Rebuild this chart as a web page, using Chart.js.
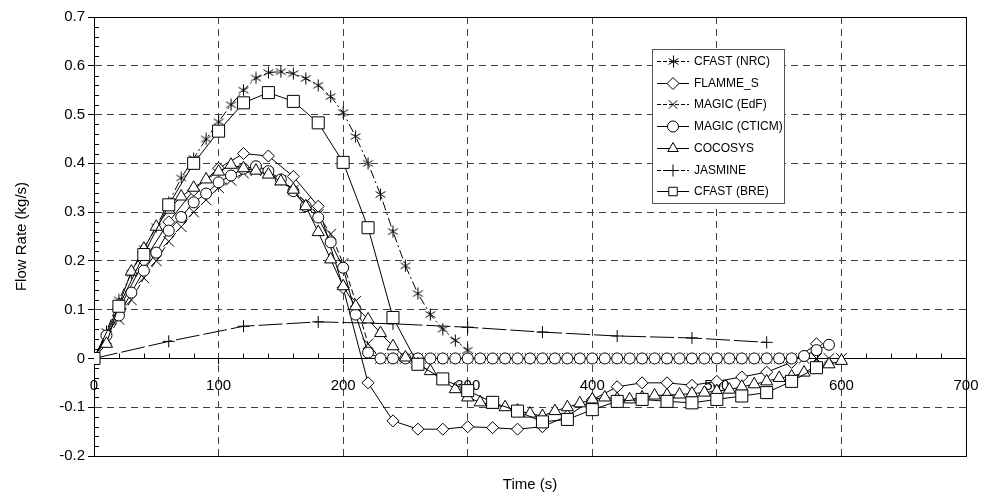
<!DOCTYPE html>
<html>
<head>
<meta charset="utf-8">
<script src="https://cdn.jsdelivr.net/npm/chart.js@4/dist/chart.umd.min.js"></script>
<style>
  html, body { margin: 0; padding: 0; background: #fff; }
</style>
</head>
<body>
<canvas id="grafica" width="985" height="502"></canvas>
<script>
// tiempos (s)
const tiempo10 = [0, 10, 20, 30, 40, 50, 60, 70, 80, 90, 100, 110, 120, 130, 140, 150, 160, 170, 180, 190,
  200, 210, 220, 230, 240, 250, 260, 270, 280, 290, 300, 310, 320, 330, 340, 350, 360, 370, 380, 390,
  400, 410, 420, 430, 440, 450, 460, 470, 480, 490, 500, 510, 520, 530, 540, 550, 560, 570, 580, 590, 600];
const tiempo20 = [0, 20, 40, 60, 80, 100, 120, 140, 160, 180, 200, 220, 240, 260, 280, 300, 320, 340, 360, 380,
  400, 420, 440, 460, 480, 500, 520, 540, 560, 580];
const tiempoJasmine = [0, 60, 120, 180, 240, 300, 360, 420, 480, 540];

// caudal (kg/s)
const flujoNRC = [0, 0.055, 0.12, 0.175, 0.225, 0.27, 0.32, 0.37, 0.41, 0.45, 0.485, 0.52, 0.55, 0.575, 0.586,
  0.588, 0.584, 0.574, 0.56, 0.537, 0.504, 0.455, 0.40, 0.336, 0.26, 0.19, 0.133, 0.09, 0.06, 0.037, 0.017];
const flujoFlamme = [0, 0.1, 0.2, 0.28, 0.345, 0.39, 0.42, 0.415, 0.373, 0.312, 0.145, -0.05, -0.128, -0.145,
  -0.145, -0.14, -0.142, -0.145, -0.14, -0.118, -0.085, -0.058, -0.05, -0.05, -0.055, -0.047, -0.038, -0.028,
  -0.008, 0.03];
const flujoEdF = [0, 0.04, 0.08, 0.12, 0.165, 0.2, 0.24, 0.27, 0.3, 0.325, 0.35, 0.365, 0.38, 0.385, 0.38,
  0.365, 0.345, 0.32, 0.295, 0.255, 0.195, 0.117, 0.03,
  0, 0, 0, 0, 0, 0, 0, 0, 0, 0, 0, 0, 0, 0, 0, 0, 0, 0, 0, 0,
  0, 0, 0, 0, 0, 0, 0, 0, 0, 0, 0, 0, 0, 0, 0, 0, 0, 0];
const flujoCTICM = [0, 0.047, 0.088, 0.135, 0.18, 0.217, 0.262, 0.29, 0.32, 0.338, 0.361, 0.375, 0.389, 0.394,
  0.384, 0.367, 0.343, 0.312, 0.289, 0.238, 0.186, 0.09, 0.012,
  0, 0, 0, 0, 0, 0, 0, 0, 0, 0, 0, 0, 0, 0, 0, 0, 0,
  0, 0, 0, 0, 0, 0, 0, 0, 0, 0, 0, 0, 0, 0, 0, 0, 0,
  0.005, 0.017, 0.028];
const flujoCocosys = [0, 0.03, 0.11, 0.178, 0.225, 0.27, 0.305, 0.332, 0.35, 0.367, 0.383, 0.397, 0.39, 0.385,
  0.377, 0.363, 0.346, 0.312, 0.259, 0.203, 0.148, 0.107, 0.08, 0.052, 0.025, 0.002, -0.012, -0.026, -0.045,
  -0.063, -0.08, -0.09, -0.095, -0.1, -0.107, -0.113, -0.118, -0.108, -0.1, -0.092, -0.084, -0.08, -0.083,
  -0.084, -0.08, -0.076, -0.075, -0.074, -0.072, -0.07, -0.067, -0.064, -0.058, -0.053, -0.047, -0.04,
  -0.037, -0.029, -0.016, -0.012, -0.005];
const flujoJasmine = [0, 0.035, 0.066, 0.075, 0.071, 0.064, 0.054, 0.046, 0.042, 0.033];
const flujoBRE = [0, 0.107, 0.213, 0.315, 0.40, 0.466, 0.524, 0.545, 0.527, 0.483, 0.402, 0.268, 0.084, -0.012,
  -0.042, -0.066, -0.09, -0.108, -0.13, -0.125, -0.105, -0.088, -0.084, -0.088, -0.091, -0.084, -0.077,
  -0.07, -0.047, -0.019];

const FUENTE = "'Liberation Sans', Arial, sans-serif";

function puntos(tiempos, valores) {
  return valores.map((v, i) => ({ x: tiempos[i], y: v }));
}

// asterisco de 6 brazos para CFAST (NRC)
function hacerAsterisco(tam) {
  const c = document.createElement('canvas');
  c.width = tam; c.height = tam;
  const g = c.getContext('2d');
  const m = tam / 2, r = tam / 2 - 0.5, d = r * 0.82;
  g.strokeStyle = '#000';
  g.lineWidth = 1;
  g.beginPath();
  g.moveTo(m, m - r); g.lineTo(m, m + r);
  g.moveTo(m - d, m - d * 0.6); g.lineTo(m + d, m + d * 0.6);
  g.moveTo(m - d, m + d * 0.6); g.lineTo(m + d, m - d * 0.6);
  g.stroke();
  return c;
}
const asterisco = hacerAsterisco(13);

const series = [
  { label: 'CFAST (NRC)', data: puntos(tiempo10, flujoNRC), pointStyle: asterisco, pointRadius: 6, borderDash: [9, 3, 2, 3] },
  { label: 'FLAMME_S', data: puntos(tiempo20, flujoFlamme), pointStyle: 'rectRot', pointRadius: 6, borderDash: [] },
  { label: 'MAGIC (EdF)', data: puntos(tiempo10, flujoEdF), pointStyle: 'crossRot', pointRadius: 7.5, borderDash: [6, 3] },
  { label: 'MAGIC (CTICM)', data: puntos(tiempo10, flujoCTICM), pointStyle: 'circle', pointRadius: 5.5, borderDash: [] },
  { label: 'COCOSYS', data: puntos(tiempo10, flujoCocosys), pointStyle: 'triangle', pointRadius: 7, borderDash: [] },
  { label: 'JASMINE', data: puntos(tiempoJasmine, flujoJasmine), pointStyle: 'cross', pointRadius: 6, borderDash: [24, 4] },
  { label: 'CFAST (BRE)', data: puntos(tiempo20, flujoBRE), pointStyle: 'rect', pointRadius: 8.5, borderDash: [] }
];

// marcas para la leyenda
function dibujarMarca(ctx, estilo, r, x, y) {
  if (estilo instanceof HTMLCanvasElement) {
    ctx.drawImage(estilo, Math.round(x - estilo.width / 2), Math.round(y - estilo.height / 2));
    return;
  }
  let relleno = true;
  ctx.beginPath();
  if (estilo === 'circle') {
    ctx.arc(x, y, r, 0, Math.PI * 2);
  } else if (estilo === 'triangle') {
    let a = 0;
    ctx.moveTo(x + Math.sin(a) * r, y - Math.cos(a) * r);
    a += 2 * Math.PI / 3;
    ctx.lineTo(x + Math.sin(a) * r, y - Math.cos(a) * r);
    a += 2 * Math.PI / 3;
    ctx.lineTo(x + Math.sin(a) * r, y - Math.cos(a) * r);
    ctx.closePath();
  } else if (estilo === 'rect') {
    const s = r * Math.SQRT1_2;
    ctx.rect(x - s, y - s, 2 * s, 2 * s);
  } else if (estilo === 'rectRot') {
    ctx.moveTo(x - r, y); ctx.lineTo(x, y - r); ctx.lineTo(x + r, y); ctx.lineTo(x, y + r);
    ctx.closePath();
  } else if (estilo === 'cross') {
    relleno = false;
    ctx.moveTo(x - r, y); ctx.lineTo(x + r, y); ctx.moveTo(x, y - r); ctx.lineTo(x, y + r);
  } else if (estilo === 'crossRot') {
    relleno = false;
    const s = r * Math.SQRT1_2;
    ctx.moveTo(x - s, y - s); ctx.lineTo(x + s, y + s); ctx.moveTo(x - s, y + s); ctx.lineTo(x + s, y - s);
  }
  if (relleno) { ctx.fillStyle = '#fff'; ctx.fill(); }
  ctx.stroke();
}

const leyenda = {
  id: 'leyenda',
  afterDraw(chart) {
    const ctx = chart.ctx;
    const caja = { x: 652, y: 49, w: 132, h: 154 };
    ctx.save();
    ctx.fillStyle = '#fff';
    ctx.fillRect(caja.x, caja.y, caja.w, caja.h);
    ctx.strokeStyle = '#555';
    ctx.lineWidth = 1;
    ctx.strokeRect(caja.x + 0.5, caja.y + 0.5, caja.w, caja.h);
    ctx.font = '12px ' + FUENTE;
    ctx.textBaseline = 'middle';
    chart.data.datasets.forEach((ds, i) => {
      const y = Math.round(caja.y + 12 + i * 21.7) + 0.5;
      const x0 = caja.x + 5;
      ctx.strokeStyle = '#000';
      ctx.lineWidth = 1;
      ctx.setLineDash(ds.borderDash.length ? [4, 2] : []);
      ctx.beginPath();
      ctx.moveTo(x0, y);
      ctx.lineTo(x0 + 32, y);
      ctx.stroke();
      ctx.setLineDash([]);
      dibujarMarca(ctx, ds.pointStyle, Math.min(ds.pointRadius, 6), x0 + 16, y);
      ctx.fillStyle = '#000';
      ctx.fillText(ds.label, x0 + 37, y);
    });
    ctx.restore();
  }
};

// marco del area de trazado y marcas menores
const marco = {
  id: 'marco',
  beforeDatasetsDraw(chart) {
    const { ctx, chartArea: a, scales } = chart;
    ctx.save();
    ctx.strokeStyle = '#000';
    ctx.lineWidth = 1;
    ctx.strokeRect(Math.round(a.left) + 0.5, Math.round(a.top) + 0.5,
      Math.round(a.right - a.left), Math.round(a.bottom - a.top));
    ctx.beginPath();
    const y0 = Math.round(scales.y.getPixelForValue(0)) + 0.5;
    for (let t = 20; t < 700; t += 20) {
      if (t % 100 === 0) continue;
      const px = Math.round(scales.x.getPixelForValue(t)) + 0.5;
      ctx.moveTo(px, y0);
      ctx.lineTo(px, y0 - 5);
    }
    for (let k = -10; k <= 35; k++) {
      if (k % 5 === 0) continue;
      const py = Math.round(scales.y.getPixelForValue(k * 0.02)) + 0.5;
      ctx.moveTo(a.left, py);
      ctx.lineTo(a.left + 5, py);
    }
    ctx.stroke();
    ctx.restore();
  }
};

const ctx = document.getElementById('grafica').getContext('2d');

const grafica = new Chart(ctx, {
  type: 'line',
  data: {
    datasets: series.map((s, i) => ({
      label: s.label,
      data: s.data,
      xAxisID: 'x',
      yAxisID: 'y',
      borderColor: '#000',
      borderWidth: 1,
      borderDash: s.borderDash,
      pointStyle: s.pointStyle,
      pointRadius: s.pointRadius,
      pointHoverRadius: s.pointRadius,
      pointBackgroundColor: '#fff',
      pointBorderColor: '#000',
      pointBorderWidth: 1,
      tension: 0,
      fill: false,
      order: series.length - i
    }))
  },
  options: {
    responsive: false,
    animation: false,
    devicePixelRatio: 1,
    layout: { padding: { left: 0, right: 19, top: 17, bottom: 0 } },
    plugins: {
      legend: { display: false },
      tooltip: { enabled: false }
    },
    scales: {
      x: {
        type: 'linear',
        position: 'bottom',
        min: 0,
        max: 700,
        ticks: { display: false },
        grid: { display: false },
        border: { display: false },
        title: {
          display: true,
          text: 'Time (s)',
          color: '#000',
          font: { family: FUENTE, size: 15 },
          padding: { top: 0, bottom: 8 }
        },
        afterFit: (escala) => { escala.height = 46; }
      },
      ejeCero: {
        type: 'linear',
        axis: 'x',
        position: { y: 0 },
        min: 0,
        max: 700,
        ticks: { stepSize: 100, color: '#000', padding: 13, font: { family: FUENTE, size: 15 }, maxRotation: 0 },
        grid: { color: '#404040', tickColor: '#000', tickLength: 5, lineWidth: 1 },
        border: { display: true, color: '#000', width: 1, dash: [7, 5] },
        afterFit: (escala) => { escala.paddingLeft = 0; escala.paddingRight = 0; }
      },
      y: {
        type: 'linear',
        position: 'left',
        min: -0.2,
        max: 0.7,
        ticks: {
          stepSize: 0.1,
          color: '#000',
          padding: 3,
          font: { family: FUENTE, size: 15 },
          callback: (v) => {
            const r = Math.round(v * 10) / 10;
            return r === 0 ? '0' : r.toFixed(1);
          }
        },
        grid: {
          color: (c) => (c.tick && Math.abs(c.tick.value) < 1e-9 ? 'rgba(0,0,0,0)' : '#404040'),
          tickColor: '#000',
          tickLength: 6,
          lineWidth: 1
        },
        border: { display: true, color: '#000', width: 1, dash: [7, 5] },
        title: {
          display: true,
          text: 'Flow Rate (kg/s)',
          color: '#000',
          font: { family: FUENTE, size: 15 },
          padding: { top: 13, bottom: 0 }
        },
        afterFit: (escala) => { escala.width = 94; }
      }
    }
  },
  plugins: [marco, leyenda]
});
</script>
</body>
</html>
